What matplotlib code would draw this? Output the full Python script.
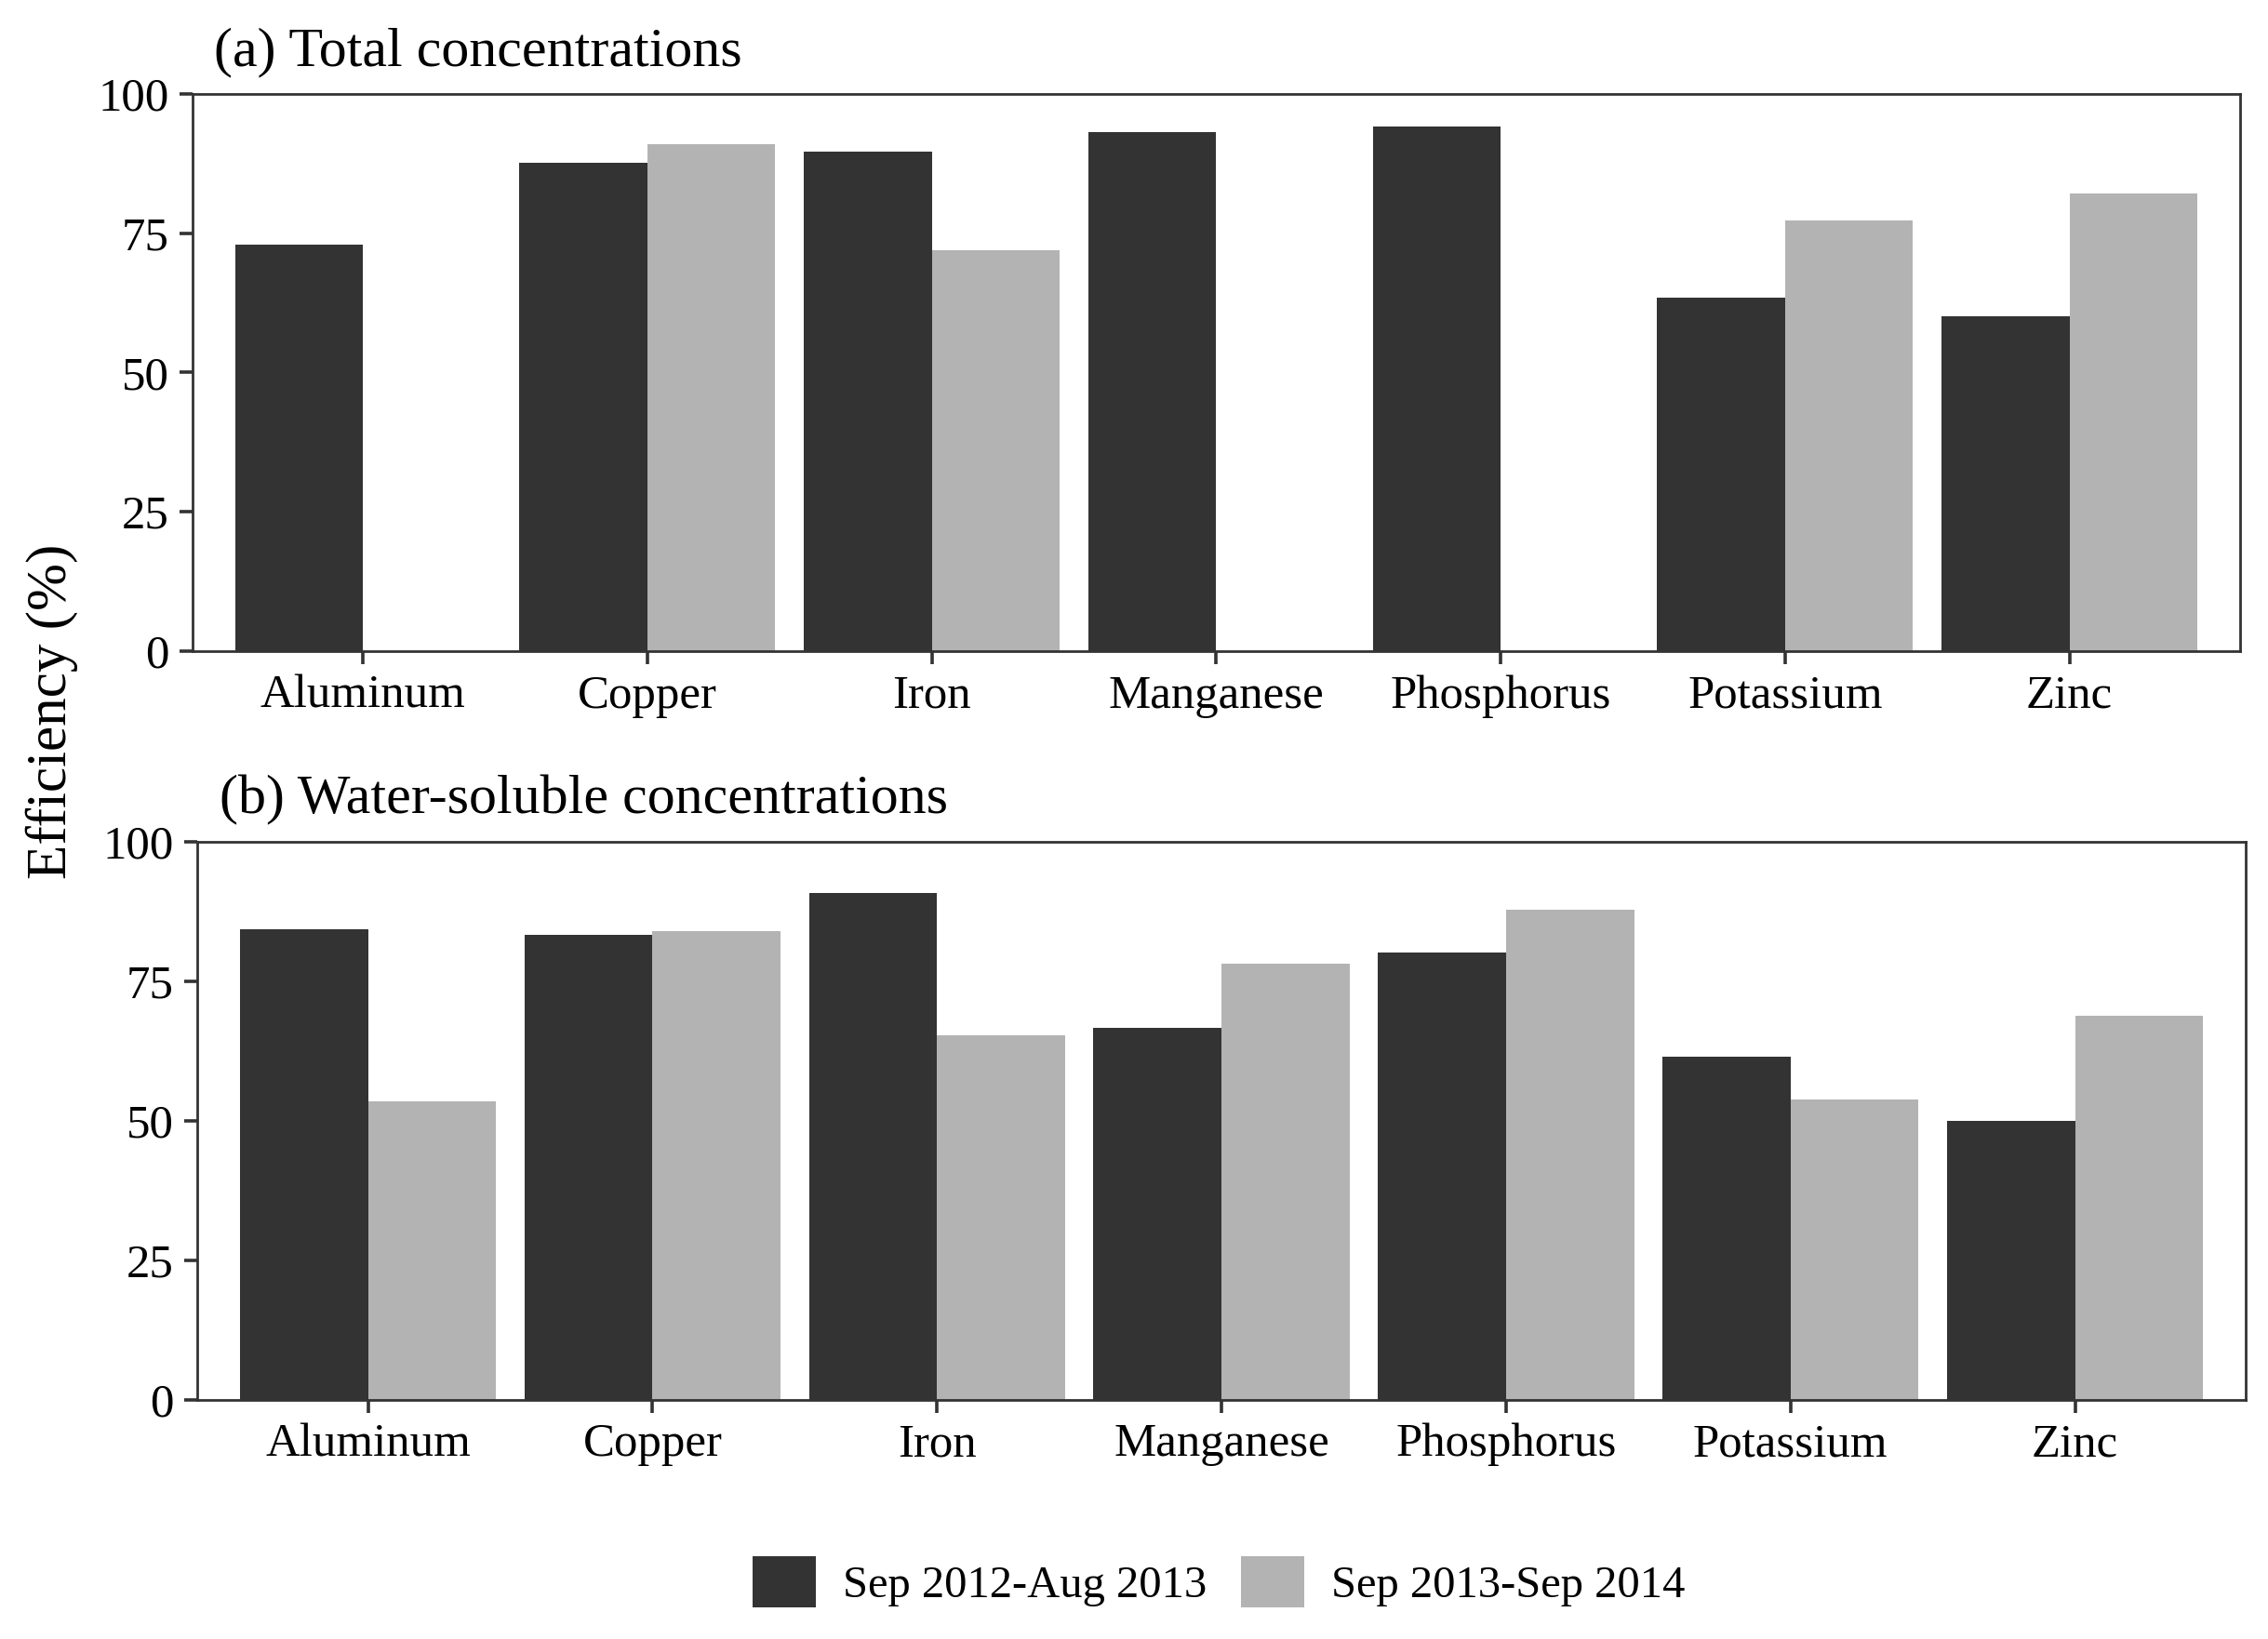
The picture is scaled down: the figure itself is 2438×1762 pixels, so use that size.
import numpy as np
import matplotlib
matplotlib.use('Agg')
import matplotlib.pyplot as plt
from matplotlib.patches import Patch

plt.rcParams['font.family'] = ['Liberation Serif', 'DejaVu Serif']

elements = ['Aluminum', 'Copper', 'Iron', 'Manganese', 'Phosphorus', 'Potassium', 'Zinc']
periods = ['Sep 2012-Aug 2013', 'Sep 2013-Sep 2014']
colors = ['#333333', '#b3b3b3']

# (a) total concentrations, efficiency %
total_p1 = [73.0, 87.6, 89.7, 93.1, 94.1, 63.4, 60.0]
total_p2 = [0.0, 91.0, 71.9, 0.0, 0.0, 77.3, 82.1]

# (b) water-soluble concentrations, efficiency %
soluble_p1 = [84.3, 83.3, 90.9, 66.7, 80.1, 61.5, 50.0]
soluble_p2 = [53.4, 84.0, 65.3, 78.2, 87.8, 53.8, 68.9]

fig = plt.figure(figsize=(12.19, 8.81), dpi=200)
ax_a = fig.add_axes([0.0848, 0.6027, 0.9029, 0.3401])
ax_b = fig.add_axes([0.0870, 0.1461, 0.9032, 0.3402])


def draw_panel(ax, v1, v2):
    x = np.arange(1, len(elements) + 1)
    w = 0.45
    ax.bar(x - w / 2, v1, width=w, color=colors[0], linewidth=0)
    ax.bar(x + w / 2, v2, width=w, color=colors[1], linewidth=0)
    ax.set_xlim(0.4, len(elements) + 0.6)
    ax.set_ylim(0, 100)
    ax.set_yticks([0, 25, 50, 75, 100])
    ax.set_xticks(x)
    ax.set_xticklabels(elements)
    for s in ax.spines.values():
        s.set_color('#333333')
        s.set_linewidth(1.0)
    ax.tick_params(axis='both', colors='#333333', labelcolor='black',
                   labelsize=18.3, length=5, width=1.3)
    ax.tick_params(axis='x', pad=4)
    ax.tick_params(axis='y', pad=4)


draw_panel(ax_a, total_p1, total_p2)
draw_panel(ax_b, soluble_p1, soluble_p2)

fig.text(0.0943, 0.9603, '(a) Total concentrations', fontsize=21.6,
         ha='left', va='baseline')
fig.text(0.0968, 0.504, '(b) Water-soluble concentrations', fontsize=21.6,
         ha='left', va='baseline')
fig.text(0.023, 0.566, 'Efficiency (%)', fontsize=22, rotation=90,
         ha='center', va='center')

handles = [Patch(facecolor=c, edgecolor='none') for c in colors]
fig.legend(handles, periods, loc='center', bbox_to_anchor=(0.5375, 0.035),
           ncol=2, frameon=False, fontsize=17.5, handlelength=1.4,
           handleheight=1.35, handletextpad=0.6, columnspacing=0.75)

fig.savefig('out.png', dpi=200)
